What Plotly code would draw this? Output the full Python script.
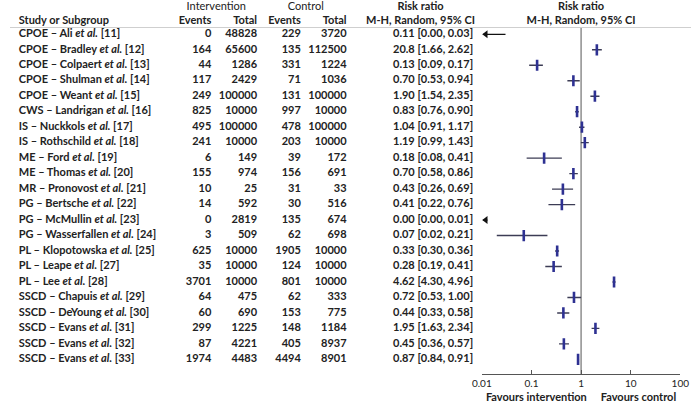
import plotly.graph_objects as go
import math

studies = [
    "CPOE – Ali <i>et al.</i> [11]",
    "CPOE – Bradley <i>et al.</i> [12]",
    "CPOE – Colpaert <i>et al.</i> [13]",
    "CPOE – Shulman <i>et al.</i> [14]",
    "CPOE – Weant <i>et al.</i> [15]",
    "CWS – Landrigan <i>et al.</i> [16]",
    "IS – Nuckkols <i>et al.</i> [17]",
    "IS – Rothschild <i>et al.</i> [18]",
    "ME – Ford <i>et al.</i> [19]",
    "ME – Thomas <i>et al.</i> [20]",
    "MR – Pronovost <i>et al.</i> [21]",
    "PG – Bertsche <i>et al.</i> [22]",
    "PG – McMullin <i>et al.</i> [23]",
    "PG – Wasserfallen <i>et al.</i> [24]",
    "PL – Klopotowska <i>et al.</i> [25]",
    "PL – Leape <i>et al.</i> [27]",
    "PL – Lee <i>et al.</i> [28]",
    "SSCD – Chapuis <i>et al.</i> [29]",
    "SSCD – DeYoung <i>et al.</i> [30]",
    "SSCD – Evans <i>et al.</i> [31]",
    "SSCD – Evans <i>et al.</i> [32]",
    "SSCD – Evans <i>et al.</i> [33]",
]
int_events = [0, 164, 44, 117, 249, 825, 495, 241, 6, 155, 10, 14, 0, 3, 625, 35, 3701, 64, 60, 299, 87, 1974]
int_total = [48828, 65600, 1286, 2429, 100000, 10000, 100000, 10000, 149, 974, 25, 592, 2819, 509, 10000, 10000, 10000, 475, 690, 1225, 4221, 4483]
ctl_events = [229, 135, 331, 71, 131, 997, 478, 203, 39, 156, 31, 30, 135, 62, 1905, 124, 801, 62, 153, 148, 405, 4494]
ctl_total = [3720, 112500, 1224, 1036, 100000, 10000, 100000, 10000, 172, 691, 33, 516, 674, 698, 10000, 10000, 10000, 333, 775, 1184, 8937, 8901]
rr_labels = [
    "0.11 [0.00, 0.03]", "20.8 [1.66, 2.62]", "0.13 [0.09, 0.17]", "0.70 [0.53, 0.94]",
    "1.90 [1.54, 2.35]", "0.83 [0.76, 0.90]", "1.04 [0.91, 1.17]", "1.19 [0.99, 1.43]",
    "0.18 [0.08, 0.41]", "0.70 [0.58, 0.86]", "0.43 [0.26, 0.69]", "0.41 [0.22, 0.76]",
    "0.00 [0.00, 0.01]", "0.07 [0.02, 0.21]", "0.33 [0.30, 0.36]", "0.28 [0.19, 0.41]",
    "4.62 [4.30, 4.96]", "0.72 [0.53, 1.00]", "0.44 [0.33, 0.58]", "1.95 [1.63, 2.34]",
    "0.45 [0.36, 0.57]", "0.87 [0.84, 0.91]",
]
# plotted estimates
rr = [0.003, 2.08, 0.13, 0.70, 1.90, 0.83, 1.04, 1.19, 0.18, 0.70, 0.43, 0.41,
      0.002, 0.07, 0.33, 0.28, 4.62, 0.72, 0.44, 1.95, 0.45, 0.87]
ci_lo = [0.0003, 1.66, 0.09, 0.53, 1.54, 0.76, 0.91, 0.99, 0.08, 0.58, 0.26, 0.22,
         0.0002, 0.02, 0.30, 0.19, 4.30, 0.53, 0.33, 1.63, 0.36, 0.84]
ci_hi = [0.03, 2.62, 0.17, 0.94, 2.35, 0.90, 1.17, 1.43, 0.41, 0.86, 0.69, 0.76,
         0.013, 0.21, 0.36, 0.41, 4.96, 1.00, 0.58, 2.34, 0.57, 0.91]
tick_vals = [0.01, 0.1, 1, 10, 100]
tick_text = ["0.01", "0.1", "1", "10", "100"]

AXMIN, AXMAX = 0.01, 100
FONT = "Lato"
TXT = "#222222"
BLUE = "#2e3192"
CILINE = "#3c3c55"

n = len(studies)
rows = list(range(n))

W, H = 700, 407
row0, step = 34.3, 15.48          # pixel of first row, row spacing


def yval(px):
    return (px - row0) / step


fig = go.Figure()

# ---------- text table (xaxis2 = pixels, yaxis2 = row units) ----------
def text_col(x, texts, pos, bold=True, size=11):
    t = [f"<b>{s}</b>" if bold else s for s in texts]
    fig.add_trace(go.Scatter(
        x=[x] * len(t), y=rows, text=t, mode="text", textposition=pos,
        textfont=dict(family=FONT, size=size, color=TXT),
        xaxis="x2", yaxis="y2", hoverinfo="skip", showlegend=False, cliponaxis=False))

text_col(9, studies, "middle right")
text_col(207, [str(v) for v in int_events], "middle left")
text_col(254, [str(v) for v in int_total], "middle left")
text_col(299, [str(v) for v in ctl_events], "middle left")
text_col(346, [str(v) for v in ctl_total], "middle left")
text_col(476, rr_labels, "middle left")


def header(x, y, s, pos, bold=True):
    fig.add_trace(go.Scatter(
        x=[x], y=[y], text=[f"<b>{s}</b>" if bold else s], mode="text", textposition=pos,
        textfont=dict(family=FONT, size=11, color=TXT),
        xaxis="x2", yaxis="y2", hoverinfo="skip", showlegend=False, cliponaxis=False))

hy1, hy2 = yval(7.5), yval(21)
header(212, hy1, "Intervention", "middle center", bold=False)
header(304, hy1, "Control", "middle center", bold=False)
header(422, hy1, "Risk ratio", "middle center")
header(587, hy1, "Risk ratio", "middle center")
header(9, hy2, "Study or Subgroup", "middle right")
header(207, hy2, "Events", "middle left")
header(254, hy2, "Total", "middle left")
header(299, hy2, "Events", "middle left")
header(346, hy2, "Total", "middle left")
header(422, hy2, "M-H, Random, 95% CI", "middle center")
header(587, hy2, "M-H, Random, 95% CI", "middle center")

# ---------- forest plot ----------
y_top_px, y_bot_px = 27.5, 374.0
y_top_val, y_bot_val = yval(y_top_px), yval(y_bot_px)

fig.add_trace(go.Scatter(x=[1, 1], y=[y_top_val, y_bot_val], mode="lines",
                         line=dict(color="#555555", width=1), hoverinfo="skip",
                         showlegend=False, cliponaxis=False))

ci_x, ci_y, arr_x, arr_y = [], [], [], []
est_x, est_y = [], []
for i in rows:
    lo = max(ci_lo[i], AXMIN)
    hi = ci_hi[i]
    if ci_lo[i] < AXMIN:
        ar_x_end = max(hi, AXMIN * 1.2)
        fig.add_trace(go.Scatter(x=[AXMIN * 1.05, ar_x_end], y=[i, i], mode="lines",
                                 line=dict(color="#111111", width=1.2), hoverinfo="skip",
                                 showlegend=False))
        arr_x.append(AXMIN * 1.2)
        arr_y.append(i)
    else:
        ci_x += [lo, hi, None]
        ci_y += [i, i, None]
    if AXMIN <= rr[i] <= AXMAX:
        est_x.append(rr[i])
        est_y.append(i)

fig.add_trace(go.Scatter(x=ci_x, y=ci_y, mode="lines", line=dict(color=CILINE, width=1.4),
                         hoverinfo="skip", showlegend=False))
fig.add_trace(go.Scatter(x=est_x, y=est_y, mode="markers",
                         marker=dict(symbol="line-ns", size=8, line=dict(color=BLUE, width=2.6)),
                         hoverinfo="skip", showlegend=False))
fig.add_trace(go.Scatter(x=arr_x, y=arr_y, mode="markers",
                         marker=dict(symbol="triangle-left", size=7, color="#111111"),
                         hoverinfo="skip", showlegend=False, cliponaxis=False))

# favours labels
fig.add_trace(go.Scatter(x=[541, 646], y=[yval(398.5), yval(398.5)],
                         text=["<b>Favours intervention</b>", "<b>Favours control</b>"],
                         mode="text", textposition="middle center",
                         textfont=dict(family=FONT, size=11, color=TXT),
                         xaxis="x2", yaxis="y2", hoverinfo="skip", showlegend=False,
                         cliponaxis=False))

fig.update_layout(
    width=W, height=H, margin=dict(l=0, r=0, t=0, b=0),
    paper_bgcolor="white", plot_bgcolor="rgba(0,0,0,0)",
    xaxis=dict(type="log", range=[math.log10(AXMIN), math.log10(AXMAX)],
               domain=[485 / W, 689 / W], showgrid=False, zeroline=False,
               showline=True, linecolor="#555555", linewidth=1,
               ticks="inside", ticklen=4, tickcolor="#555555",
               tickvals=tick_vals, ticktext=tick_text,
               tickfont=dict(family=FONT, size=10, color=TXT), anchor="y"),
    yaxis=dict(range=[y_bot_val, y_top_val],
               domain=[1 - y_bot_px / H, 1 - y_top_px / H],
               visible=False, anchor="x"),
    xaxis2=dict(range=[0, W], domain=[0, 1], visible=False, anchor="y2"),
    yaxis2=dict(range=[yval(H), yval(0)], domain=[0, 1],
                visible=False, anchor="x2"),
    shapes=[dict(type="line", xref="paper", yref="paper", x0=0, x1=1,
                 y0=1 - 27.5 / H, y1=1 - 27.5 / H,
                 line=dict(color="#cfcfcf", width=1))],
)

fig.write_html("out.html", config={"displayModeBar": False},
               post_script="document.body.style.margin='0';document.body.style.overflow='hidden';")
